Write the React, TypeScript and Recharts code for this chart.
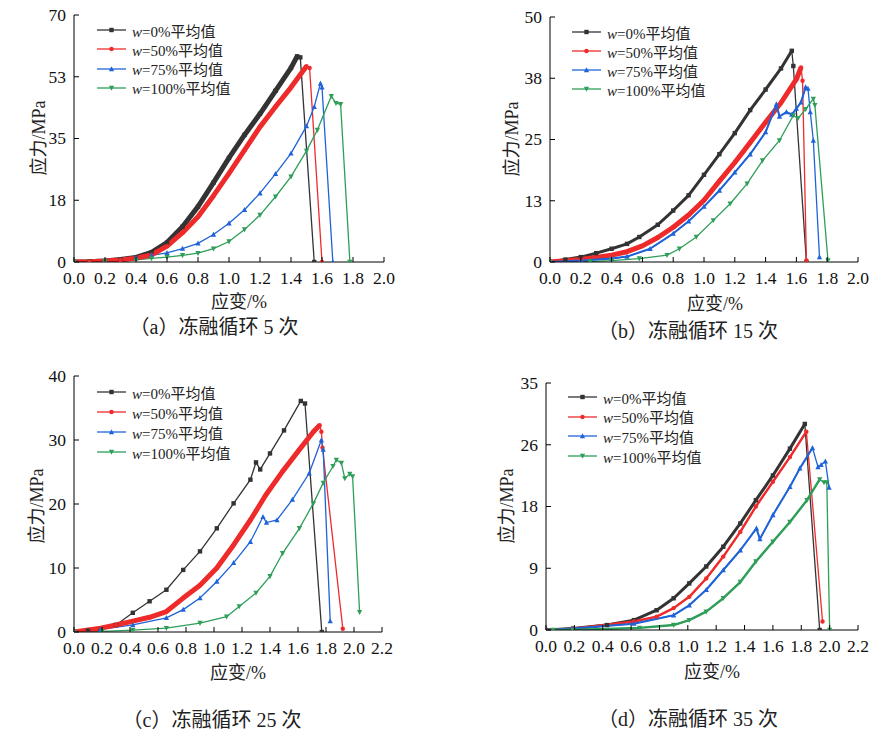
import React from "react";
import { LineChart, Line, XAxis, YAxis } from "recharts";

// 应力-应变曲线，四种含水率 w，冻融循环 5/15/25/35 次

const SERIES_LABELS = ["0%", "50%", "75%", "100%"];
const COLORS = ["#333333", "#ee2a2a", "#1f63d8", "#2e9e58"];

const X_TICKS_20 = [0, 0.2, 0.4, 0.6, 0.8, 1.0, 1.2, 1.4, 1.6, 1.8, 2.0];
const X_TICKS_22 = [0, 0.2, 0.4, 0.6, 0.8, 1.0, 1.2, 1.4, 1.6, 1.8, 2.0, 2.2];
const Y_TICKS_A = [0, 17.5, 35, 52.5, 70];
const Y_TICKS_B = [0, 12.5, 25, 37.5, 50];
const Y_TICKS_C = [0, 10, 20, 30, 40];
const Y_TICKS_D = [0, 8.75, 17.5, 26.25, 35];

// (a) 冻融循环 5 次  [应变 %, 应力 MPa]
const a_w0 = [[0, 0], [0.1, 0.1], [0.2, 0.3], [0.3, 0.7], [0.4, 1.3], [0.5, 2.7], [0.6, 5.5], [0.7, 10], [0.8, 15.7], [0.9, 22.5], [1.0, 29.5], [1.1, 36], [1.2, 42], [1.3, 48.5], [1.4, 55], [1.44, 58.3], [1.46, 58], [1.55, 0]];
const a_w50 = [[0, 0], [0.1, 0.1], [0.2, 0.3], [0.3, 0.6], [0.4, 1.1], [0.5, 2.0], [0.6, 4.5], [0.7, 8.3], [0.8, 12.8], [0.9, 18.8], [1.0, 25.1], [1.1, 31.7], [1.2, 38.3], [1.3, 44], [1.4, 49.5], [1.5, 55.5], [1.52, 55], [1.6, 0]];
const a_w75 = [[0, 0], [0.2, 0.3], [0.4, 1.2], [0.5, 1.9], [0.6, 2.6], [0.7, 3.8], [0.8, 5.3], [0.9, 7.8], [1.0, 11], [1.1, 14.8], [1.2, 19.5], [1.3, 25], [1.4, 30.8], [1.5, 38.5], [1.55, 44], [1.59, 50.6], [1.6, 49.5], [1.67, 0]];
const a_w100 = [[0, 0], [0.2, 0.2], [0.4, 0.6], [0.5, 1.0], [0.6, 1.4], [0.7, 1.9], [0.8, 2.5], [0.9, 3.8], [1.0, 5.8], [1.1, 9.2], [1.2, 13.3], [1.3, 18.5], [1.4, 24.2], [1.5, 31.5], [1.57, 37.4], [1.66, 47], [1.69, 45], [1.72, 44.7], [1.78, 0]];

// (b) 冻融循环 15 次
const b_w0 = [[0, 0], [0.1, 0.5], [0.2, 1.0], [0.3, 1.8], [0.4, 2.7], [0.5, 3.7], [0.58, 5.1], [0.7, 7.6], [0.8, 10.5], [0.9, 13.6], [1.0, 17.8], [1.1, 22], [1.2, 26.3], [1.3, 31], [1.4, 35.2], [1.5, 39.5], [1.57, 43.1], [1.58, 40], [1.665, 0]];
const b_w50 = [[0, 0], [0.2, 0.5], [0.4, 1.4], [0.5, 2.1], [0.6, 3.3], [0.7, 5], [0.8, 7.1], [0.9, 9.6], [1.0, 12.6], [1.1, 16.5], [1.2, 20.3], [1.3, 24.4], [1.4, 28.5], [1.5, 32.5], [1.6, 37.3], [1.63, 39.7], [1.64, 37], [1.665, 0.3]];
const b_w75 = [[0, 0], [0.2, 0.3], [0.4, 0.7], [0.5, 1.1], [0.65, 2.7], [0.8, 5.8], [0.9, 8.3], [1.0, 11.3], [1.1, 14.6], [1.2, 18.3], [1.3, 22], [1.4, 26.5], [1.47, 32.2], [1.49, 29.7], [1.535, 30.6], [1.57, 30.1], [1.6, 31.3], [1.63, 32.6], [1.66, 35.7], [1.675, 35.4], [1.69, 30.6], [1.71, 24.8], [1.75, 1.0]];
const b_w100 = [[0, 0], [0.26, 0.1], [0.4, 0.3], [0.58, 0.7], [0.76, 1.4], [0.84, 2.7], [0.95, 5.1], [1.06, 8.5], [1.17, 11.9], [1.28, 16], [1.38, 20.7], [1.49, 24.8], [1.58, 29.9], [1.61, 29.3], [1.66, 31.2], [1.71, 33.3], [1.72, 32], [1.805, 0.3]];

// (c) 冻融循环 25 次
const c_w0 = [[0, 0], [0.1, 0.2], [0.19, 0.4], [0.3, 1.1], [0.42, 3], [0.54, 4.8], [0.66, 6.6], [0.78, 9.7], [0.9, 12.6], [1.02, 16.2], [1.14, 20.1], [1.26, 23.8], [1.3, 26.5], [1.33, 25.4], [1.4, 27.9], [1.5, 31.5], [1.62, 36.1], [1.65, 35.7], [1.77, 0]];
const c_w50 = [[0, 0], [0.19, 0.6], [0.3, 1.1], [0.42, 1.7], [0.54, 2.3], [0.66, 3.2], [0.78, 5.3], [0.9, 7.3], [1.02, 10], [1.14, 13.6], [1.26, 17.5], [1.37, 21.4], [1.49, 25.1], [1.61, 28.5], [1.71, 31.3], [1.755, 32.3], [1.767, 31.3], [1.775, 28.8], [1.92, 0.5]];
const c_w75 = [[0, 0], [0.19, 0.4], [0.42, 1.1], [0.66, 2.2], [0.78, 3.5], [0.9, 5.3], [1.02, 7.9], [1.14, 10.8], [1.26, 14.1], [1.35, 18], [1.375, 17.1], [1.45, 17.5], [1.56, 20.7], [1.68, 24.8], [1.767, 30], [1.78, 28.5], [1.83, 1.7]];
const c_w100 = [[0, 0], [0.2, 0.1], [0.42, 0.3], [0.66, 0.6], [0.9, 1.4], [1.09, 2.4], [1.18, 4.0], [1.3, 6.1], [1.4, 8.7], [1.49, 12.3], [1.61, 16.2], [1.71, 20.1], [1.78, 23.3], [1.85, 25.9], [1.874, 26.9], [1.91, 26.4], [1.934, 24], [1.97, 24.7], [1.99, 24.3], [2.04, 3.1]];

// (d) 冻融循环 35 次
const d_w0 = [[0, 0], [0.19, 0.2], [0.43, 0.7], [0.62, 1.4], [0.78, 2.8], [0.9, 4.5], [1.01, 6.6], [1.13, 9], [1.25, 11.8], [1.37, 15.1], [1.48, 18.4], [1.6, 21.9], [1.72, 25.7], [1.825, 29.2], [1.93, 0]];
const d_w50 = [[0, 0], [0.19, 0.2], [0.62, 1.2], [0.78, 1.9], [0.9, 3.1], [1.01, 4.7], [1.13, 7.3], [1.25, 10.4], [1.37, 13.9], [1.48, 17.5], [1.6, 21], [1.72, 24.5], [1.836, 28.1], [1.95, 1.2]];
const d_w75 = [[0, 0], [0.19, 0.2], [0.62, 0.9], [0.9, 2.1], [1.01, 3.5], [1.13, 5.7], [1.25, 8.5], [1.37, 11.3], [1.484, 14.4], [1.508, 12.9], [1.6, 16.3], [1.72, 20.3], [1.79, 22.9], [1.879, 25.8], [1.918, 23.1], [1.94, 23.4], [1.97, 23.9], [1.996, 20.2]];
const d_w100 = [[0.05, 0], [0.19, 0], [0.66, 0.3], [0.9, 0.7], [1.01, 1.4], [1.13, 2.6], [1.25, 4.5], [1.37, 6.8], [1.48, 9.7], [1.6, 12.5], [1.72, 15.3], [1.84, 18.4], [1.93, 21.35], [1.96, 20.9], [1.98, 20.9], [2.0, 0]];

const SERIF = "'Liberation Serif', 'Times New Roman', 'Noto Sans CJK SC', serif";

type Pt = { x: number; y: number };
const toPts = (arr: number[][]): Pt[] => arr.map(([x, y]) => ({ x, y }));

// rising part up to the peak (drawn thick, the drop segment stays thin)
const rising = (pts: Pt[]) => {
  let k = 0;
  pts.forEach((p, i) => {
    if (p.y > pts[k].y) k = i;
  });
  return pts.slice(0, k + 1);
};

const Marker = ({ cx, cy, kind, color, r = 2.2 }: { cx: number; cy: number; kind: number; color: string; r?: number }) => {
  if (kind === 0) return <rect x={cx - r} y={cy - r} width={r * 2} height={r * 2} fill={color} />;
  if (kind === 1) return <circle cx={cx} cy={cy} r={r} fill={color} />;
  if (kind === 2)
    return <polygon points={`${cx},${cy - r * 1.3} ${cx - r * 1.2},${cy + r} ${cx + r * 1.2},${cy + r}`} fill={color} />;
  return <polygon points={`${cx},${cy + r * 1.3} ${cx - r * 1.2},${cy - r} ${cx + r * 1.2},${cy - r}`} fill={color} />;
};

const X_GAP = 10;
const Y_GAP = 8;
const TICK_LEN = 5;
const TICK_FONT = 17.5;

const XTick = (props: any) => {
  const { x, y, payload } = props;
  return (
    <g>
      <line x1={x} x2={x} y1={y - X_GAP} y2={y - X_GAP - TICK_LEN} stroke="#000" />
      <text x={x} y={y} dy="0.71em" textAnchor="middle" fontFamily={SERIF} fontSize={TICK_FONT} fill="#111">
        {Number(payload.value).toFixed(1)}
      </text>
    </g>
  );
};

const YTick = (props: any) => {
  const { x, y, payload } = props;
  return (
    <g>
      <line x1={x + Y_GAP} x2={x + Y_GAP + TICK_LEN} y1={y} y2={y} stroke="#000" />
      <text x={x} y={y} dy="0.33em" textAnchor="end" fontFamily={SERIF} fontSize={TICK_FONT} fill="#111">
        {Math.round(Number(payload.value))}
      </text>
    </g>
  );
};

type Panel = {
  left: number;
  top: number;
  plot: [number, number, number, number]; // l, t, r, b (page px)
  xMax: number;
  xTicks: number[];
  yMax: number;
  yTicks: number[];
  series: number[][][];
  widths: number[];
  legend: [number, number, number]; // line x, first row center y, row step
  caption: string;
  captionAt: [number, number];
  xTitleAt: [number, number];
  yTitleAt: [number, number];
};

const PANELS: Panel[] = [
  {
    left: 0, top: 0, plot: [74, 15, 384, 262], xMax: 2.0, xTicks: X_TICKS_20, yMax: 70, yTicks: Y_TICKS_A,
    series: [a_w0, a_w50, a_w75, a_w100], widths: [5, 5, 1.6, 1.6], legend: [97, 30, 19.3],
    caption: "（a）冻融循环 5 次", captionAt: [214, 325], xTitleAt: [239, 300], yTitleAt: [37, 138],
  },
  {
    left: 436, top: 0, plot: [550, 17, 858, 262], xMax: 2.0, xTicks: X_TICKS_20, yMax: 50, yTicks: Y_TICKS_B,
    series: [b_w0, b_w50, b_w75, b_w100], widths: [3, 5, 2, 1.6], legend: [572, 32, 19],
    caption: "（b）冻融循环 15 次", captionAt: [688, 329], xTitleAt: [715, 302], yTitleAt: [510, 139],
  },
  {
    left: 0, top: 365, plot: [74, 376, 382, 632], xMax: 2.2, xTicks: X_TICKS_22, yMax: 40, yTicks: Y_TICKS_C,
    series: [c_w0, c_w50, c_w75, c_w100], widths: [1.5, 5, 1.6, 1.6], legend: [97, 392, 20],
    caption: "（c）冻融循环 25 次", captionAt: [212, 718], xTitleAt: [238, 671], yTitleAt: [35, 506],
  },
  {
    left: 436, top: 365, plot: [546, 383, 858, 630], xMax: 2.2, xTicks: X_TICKS_22, yMax: 35, yTicks: Y_TICKS_D,
    series: [d_w0, d_w50, d_w75, d_w100], widths: [3, 2.4, 2, 2.4], legend: [568, 397, 19.7],
    caption: "（d）冻融循环 35 次", captionAt: [688, 717], xTitleAt: [712, 670], yTitleAt: [505, 506],
  },
];

const W = 436;
const H = 365;
const Y_AXIS_W = 40;
const X_AXIS_H = 30;

function StressPanel({ p }: { p: Panel }) {
  const [l, t, r, b] = p.plot;
  const margin = {
    top: t - p.top,
    left: l - p.left - Y_AXIS_W,
    right: p.left + W - r,
    bottom: p.top + H - b - X_AXIS_H,
  };
  const data = p.series.map(toPts);

  return (
    <div style={{ position: "absolute", left: p.left, top: p.top, width: W, height: H }}>
      <LineChart width={W} height={H} margin={margin}>
        <XAxis
          dataKey="x"
          type="number"
          domain={[0, p.xMax]}
          ticks={p.xTicks}
          allowDataOverflow
          interval={0}
          tickSize={0}
          tickMargin={X_GAP}
          tickLine={false}
          tick={<XTick />}
          height={X_AXIS_H}
          axisLine={{ stroke: "#000" }}
        />
        <XAxis xAxisId="top" orientation="top" type="number" domain={[0, p.xMax]} height={0} tick={false} tickLine={false} axisLine={{ stroke: "#000" }} />
        <YAxis
          type="number"
          domain={[0, p.yMax]}
          ticks={p.yTicks}
          allowDataOverflow
          interval={0}
          tickSize={0}
          tickMargin={Y_GAP}
          tickLine={false}
          tick={<YTick />}
          width={Y_AXIS_W}
          axisLine={{ stroke: "#000" }}
        />
        <YAxis yAxisId="right" orientation="right" type="number" domain={[0, p.yMax]} width={0} tick={false} tickLine={false} axisLine={{ stroke: "#000" }} />
        {data.map((pts, i) => (
          <Line
            key={`thin-${i}`}
            data={pts}
            dataKey="y"
            type="linear"
            stroke={COLORS[i]}
            strokeWidth={1.3}
            isAnimationActive={false}
            dot={(d: any) => <Marker key={`m-${i}-${d.index}`} cx={d.cx} cy={d.cy} kind={i} color={COLORS[i]} />}
            activeDot={false}
          />
        ))}
        {data.map((pts, i) =>
          p.widths[i] > 1.6 ? (
            <Line
              key={`thick-${i}`}
              data={rising(pts)}
              dataKey="y"
              type="linear"
              stroke={COLORS[i]}
              strokeWidth={p.widths[i]}
              strokeLinejoin="round"
              isAnimationActive={false}
              dot={false}
              activeDot={false}
            />
          ) : null
        )}
      </LineChart>
    </div>
  );
}

function LegendBox({ p }: { p: Panel }) {
  const [lx, y0, step] = p.legend;
  return (
    <>
      {SERIES_LABELS.map((lab, i) => (
        <div
          key={lab}
          style={{
            position: "absolute",
            left: lx,
            top: y0 + i * step - 10,
            height: 20,
            display: "flex",
            alignItems: "center",
            whiteSpace: "nowrap",
            fontFamily: SERIF,
            fontSize: 15,
            color: "#222",
          }}
        >
          <svg width={30} height={10} style={{ marginRight: 5 }}>
            <line x1={0} x2={29} y1={5} y2={5} stroke={COLORS[i]} strokeWidth={1.3} />
            <Marker cx={14.5} cy={5} kind={i} color={COLORS[i]} />
          </svg>
          <span>
            <i>w</i>={lab}平均值
          </span>
        </div>
      ))}
    </>
  );
}

const centered = (x: number, y: number, extra = ""): React.CSSProperties => ({
  position: "absolute",
  left: x,
  top: y,
  transform: `translate(-50%, -50%) ${extra}`,
  whiteSpace: "nowrap",
  fontFamily: SERIF,
  color: "#222",
});

export default function App() {
  return (
    <div style={{ position: "absolute", left: 0, top: 0, width: 873, height: 730, background: "#fff", overflow: "hidden" }}>
      {PANELS.map((p, k) => (
        <React.Fragment key={k}>
          <StressPanel p={p} />
          <LegendBox p={p} />
          <div style={{ ...centered(p.xTitleAt[0], p.xTitleAt[1]), fontSize: 18 }}>应变/%</div>
          <div style={{ ...centered(p.yTitleAt[0], p.yTitleAt[1], "rotate(-90deg)"), fontSize: 18 }}>应力/MPa</div>
          <div style={{ ...centered(p.captionAt[0], p.captionAt[1]), fontSize: 20 }}>{p.caption}</div>
        </React.Fragment>
      ))}
    </div>
  );
}
